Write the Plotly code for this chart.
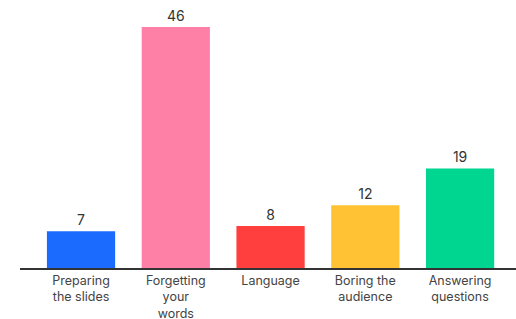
import plotly.graph_objects as go

categories = ["Preparing<br>the slides", "Forgetting<br>your<br>words", "Language",
              "Boring the<br>audience", "Answering<br>questions"]
values = [7, 46, 8, 12, 19]
colors = ["#1C6BFF", "#FF80A7", "#FF3E3E", "#FFC235", "#00D68F"]

fig = go.Figure(go.Bar(
    x=list(range(len(categories))),
    y=values,
    marker=dict(color=colors, line=dict(width=0)),
    width=0.72,
    text=[str(v) for v in values],
    textposition="outside",
    textfont=dict(size=14, color="#333333", family="Inter, Open Sans, sans-serif"),
    cliponaxis=False,
    hoverinfo="skip",
))

fig.update_layout(
    width=516, height=319,
    margin=dict(l=20, r=0, t=27, b=51),
    paper_bgcolor="white", plot_bgcolor="white",
    showlegend=False,
    xaxis=dict(
        range=[-0.644, 4.59],
        tickmode="array",
        tickvals=list(range(len(categories))),
        ticktext=categories,
        tickfont=dict(size=12.5, color="#444444", family="Inter, Open Sans, sans-serif"),
        showline=True, linecolor="#333333", linewidth=2,
        showgrid=False, zeroline=False, ticks="",
        automargin=False,
    ),
    yaxis=dict(range=[0, 46], visible=False, showgrid=False, zeroline=False,
               automargin=False),
)

fig.write_html("out.html", config={"displayModeBar": False},
               post_script="document.body.style.margin='0';document.body.style.overflow='hidden';")
